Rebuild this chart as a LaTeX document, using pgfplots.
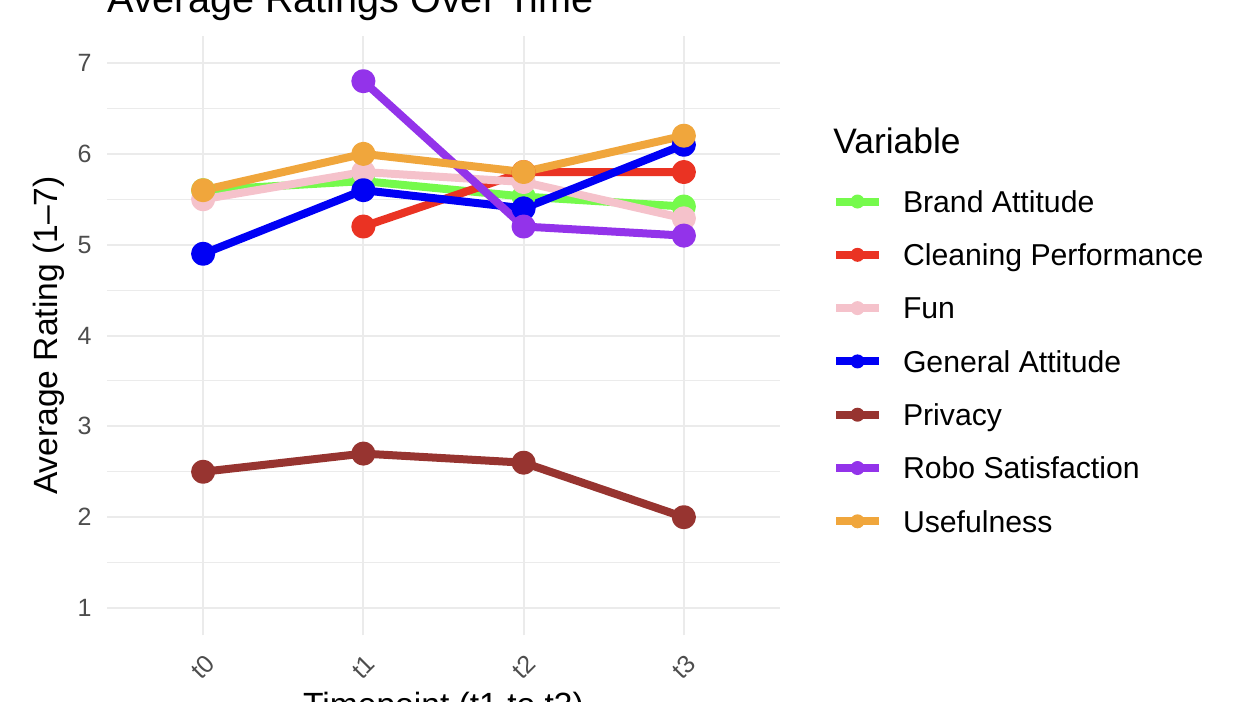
\documentclass[border=0pt]{standalone}
\usepackage{fontspec}
\setmainfont{Liberation Sans}
\usepackage{pgfplots}
\pgfplotsset{compat=1.18}
\definecolor{cBrand}{RGB}{117,250,76}
\definecolor{cClean}{RGB}{234,51,35}
\definecolor{cFun}{RGB}{245,194,203}
\definecolor{cGen}{RGB}{0,0,245}
\definecolor{cPriv}{RGB}{151,52,48}
\definecolor{cRobo}{RGB}{147,51,234}
\definecolor{cUse}{RGB}{240,166,60}
\definecolor{gridc}{RGB}{235,235,235}
\definecolor{ticktext}{RGB}{77,77,77}
\begin{document}
\begin{tikzpicture}
\path[use as bounding box] (0,0) rectangle (624bp,-351bp);
\clip (0,0) rectangle (624bp,-351bp);
\begin{axis}[
  at={(53.5bp,-317.625bp)}, anchor=south west,
  scale only axis, width=336.5bp, height=299.75bp,
  xmin=-0.6, xmax=3.6, ymin=0.7, ymax=7.3,
  axis line style={draw=none},
  major tick length=0pt, minor tick length=0pt,
  xtick={0,1,2,3}, xticklabels={t0,t1,t2,t3},
  ytick={1,2,3,4,5,6,7},
  minor ytick={1.5,2.5,3.5,4.5,5.5,6.5},
  grid=both,
  major grid style={draw=gridc, line width=1bp},
  minor grid style={draw=gridc, line width=0.5bp},
  /pgf/number format/assume math mode=true,
  tick label style={font=\fontsize{12.5bp}{15bp}\selectfont, text=ticktext},
  yticklabel style={anchor=east, inner sep=0pt, xshift=-7.5bp},
  xticklabel shift=15.9bp,
  xticklabel style={rotate=45, anchor=center, inner sep=0pt},
  xlabel={Timepoint (t1 to t3)},
  ylabel={Average Rating (1--7)},
  label style={font=\fontsize{16.8bp}{20bp}\selectfont},
  xlabel style={at={(axis description cs:0.5,-0.13553)}, anchor=base},
  ylabel style={at={(axis description cs:-0.07355,0.5)}, anchor=base},
  every axis plot/.append style={line width=4bp, line join=round},
  legend image code/.code={
    \draw[#1, line width=4bp, line cap=butt] (0bp,5.4bp) -- (21.5bp,5.4bp);
    \fill[#1, draw=none] (10.75bp,5.4bp) circle (3.5bp);
  },
  legend style={at={(axis description cs:1.07727,0.76798)}, anchor=north west,
    draw=none, fill=none, inner sep=0pt, outer sep=0pt, row sep=0pt,
    font=\fontsize{15.1bp}{18bp}\selectfont,
    nodes={inner sep=0pt, outer sep=0pt, text height=18.725bp, text depth=7.925bp, anchor=base west},
    /tikz/every odd column/.append style={column sep=10bp}},
  legend cell align=left,
]
% lines
\addplot[cBrand, no markers] coordinates {(0,5.6)(1,5.7)(2,5.53)(3,5.42)};
\addlegendentry{Brand Attitude}
\addplot[cClean, no markers] coordinates {(1,5.2)(2,5.8)(3,5.8)};
\addlegendentry{Cleaning Performance}
\addplot[cFun, no markers] coordinates {(0,5.5)(1,5.8)(2,5.69)(3,5.29)};
\addlegendentry{Fun}
\addplot[cGen, no markers] coordinates {(0,4.9)(1,5.6)(2,5.4)(3,6.1)};
\addlegendentry{General Attitude}
\addplot[cPriv, no markers] coordinates {(0,2.5)(1,2.7)(2,2.6)(3,2.0)};
\addlegendentry{Privacy}
\addplot[cRobo, no markers] coordinates {(1,6.8)(2,5.2)(3,5.1)};
\addlegendentry{Robo Satisfaction}
\addplot[cUse, no markers] coordinates {(0,5.6)(1,6.0)(2,5.8)(3,6.2)};
\addlegendentry{Usefulness}
% points
\addplot[cBrand, only marks, mark=*, mark size=4bp, forget plot] coordinates {(0,5.6)(1,5.7)(2,5.53)(3,5.42)};
\addplot[cClean, only marks, mark=*, mark size=4bp, forget plot] coordinates {(1,5.2)(2,5.8)(3,5.8)};
\addplot[cFun, only marks, mark=*, mark size=4bp, forget plot] coordinates {(0,5.5)(1,5.8)(2,5.69)(3,5.29)};
\addplot[cGen, only marks, mark=*, mark size=4bp, forget plot] coordinates {(0,4.9)(1,5.6)(2,5.4)(3,6.1)};
\addplot[cPriv, only marks, mark=*, mark size=4bp, forget plot] coordinates {(0,2.5)(1,2.7)(2,2.6)(3,2.0)};
\addplot[cRobo, only marks, mark=*, mark size=4bp, forget plot] coordinates {(1,6.8)(2,5.2)(3,5.1)};
\addplot[cUse, only marks, mark=*, mark size=4bp, forget plot] coordinates {(0,5.6)(1,6.0)(2,5.8)(3,6.2)};
\end{axis}
\node[anchor=base west, inner sep=0pt, font=\fontsize{19.8bp}{24bp}\selectfont] at (53.5bp,-6bp) {Average Ratings Over Time};
\node[anchor=base west, inner sep=0pt, font=\fontsize{17.7bp}{21bp}\selectfont] at (416.5bp,-76.5bp) {Variable};
\end{tikzpicture}
\end{document}
